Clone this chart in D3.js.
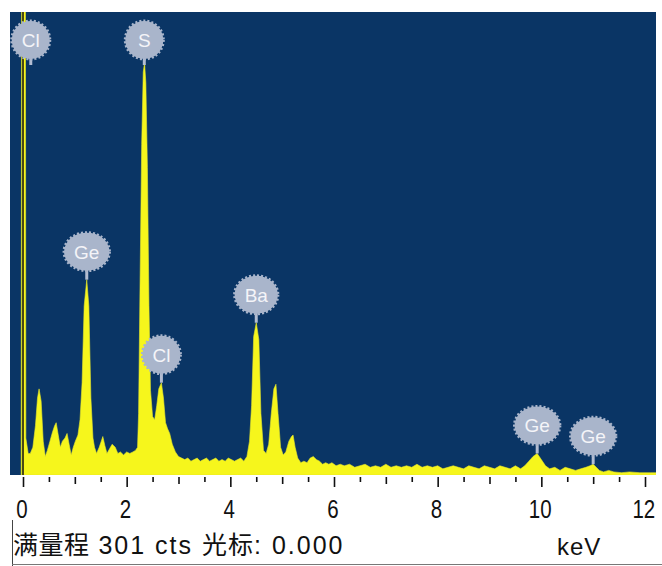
<!DOCTYPE html>
<html>
<head>
<meta charset="utf-8">
<script src="https://cdn.jsdelivr.net/npm/d3@7"></script>
<style>
body { margin: 0; background: #fff; }
svg { display: block; }
</style>
</head>
<body>
<div id="plot"></div>
<script>
// spectrum (keV / counts)
var energy = [-0.035, -0.025, 0.045, 0.055, 0.10, 0.14, 0.19, 0.24, 0.28, 0.31, 0.35, 0.39, 0.43, 0.47, 0.52, 0.57, 0.61, 0.64, 0.68, 0.72, 0.76,
    0.81, 0.85, 0.89, 0.93, 0.97, 1.01, 1.06, 1.10, 1.14, 1.18, 1.23, 1.27, 1.31, 1.35, 1.38, 1.42, 1.47, 1.51, 1.54, 1.58, 1.62, 1.67,
    1.72, 1.78, 1.83, 1.88, 1.94, 2.00, 2.06, 2.12, 2.17, 2.21, 2.23, 2.26, 2.29, 2.32, 2.345, 2.37, 2.40, 2.43, 2.46, 2.50, 2.54, 2.58,
    2.62, 2.67, 2.71, 2.75, 2.79, 2.83, 2.88, 2.94, 3.00, 3.06, 3.12, 3.18, 3.24, 3.30, 3.36, 3.42, 3.48, 3.54, 3.60, 3.66,
    3.72, 3.78, 3.84, 3.90, 3.96, 4.02, 4.08, 4.14, 4.20, 4.26, 4.32, 4.37, 4.41, 4.45, 4.50, 4.55, 4.59, 4.64, 4.69, 4.74,
    4.79, 4.84, 4.88, 4.92, 4.97, 5.02, 5.07, 5.13, 5.18, 5.21, 5.25, 5.30, 5.36, 5.42, 5.48, 5.54, 5.60, 5.66, 5.72, 5.78,
    5.84, 5.90, 5.96, 6.04, 6.12, 6.20, 6.30, 6.40, 6.50, 6.60, 6.70, 6.80, 6.90, 7.00, 7.10, 7.20, 7.30, 7.40, 7.50, 7.60,
    7.70, 7.80, 7.90, 8.00, 8.10, 8.20, 8.30, 8.40, 8.50, 8.60, 8.70, 8.80, 8.90, 9.00, 9.10, 9.20, 9.30, 9.40, 9.50, 9.60,
    9.68, 9.76, 9.84, 9.92, 10.00, 10.08, 10.16, 10.26, 10.36, 10.46, 10.56, 10.66, 10.76, 10.86, 10.94, 11.00, 11.06, 11.12, 11.20, 11.30,
    11.40, 11.55, 11.70, 11.90, 12.10, 12.25];
var counts = [0, 400, 400, 24, 14, 14, 18, 32, 50, 56, 48, 22, 12, 16, 22, 28, 32, 34, 26, 18, 22,
    24, 27, 20, 13, 18, 22, 26, 36, 60, 110, 127, 110, 50, 24, 18, 14, 18, 22, 25, 19, 14, 17,
    20, 18, 14, 15, 13, 15, 14, 15, 16, 18, 40, 130, 215, 262, 268, 255, 200, 110, 55, 38, 36, 45,
    56, 60, 50, 34, 30, 27, 20, 15, 12, 11, 10, 11, 9, 10, 11, 9, 10, 11, 9, 10,
    11, 9, 10, 9, 11, 10, 9, 10, 11, 9, 12, 22, 45, 90, 99, 88, 40, 16, 14, 20,
    40, 56, 59, 40, 18, 13, 15, 22, 25, 26, 18, 11, 8, 9, 8, 11, 12, 10, 9, 7,
    8, 7, 8, 6, 7, 6, 7, 5, 6, 7, 5, 6, 5, 7, 5, 6, 5, 6, 5, 7,
    5, 6, 5, 6, 4, 5, 6, 5, 4, 6, 5, 4, 6, 5, 4, 6, 5, 4, 6, 4,
    6, 9, 12, 14, 10, 6, 4, 5, 3, 5, 4, 3, 4, 5, 6, 7, 5, 3, 2, 3,
    2, 1.5, 2, 1.5, 1.5, 1.5];

// element markers
var peakNames = ["Cl", "S", "Ge", "Cl", "Ba", "Ge", "Ge"];
var peakEnergy = [0.15, 2.34, 1.23, 2.67, 4.50, 9.92, 11.00];
var peakCounts = [301, 268, 127, 60, 99, 14, 7];

var fullScale = 301;
var cursor = 0.000;
var tickValues = d3.range(0, 12.01, 0.5);

var W = 662, H = 566;
var box = {l: 10, r: 656, t: 12, b: 475};

var svg = d3.select('#plot')
    .append('svg')
    .attr('width', W)
    .attr('height', H);

var x = d3.scaleLinear().domain([0, 12]).range([23, 645]);
var y = d3.scaleLinear().domain([0, fullScale]).range([box.b, box.t]);

svg.append('clipPath').attr('id', 'clip')
    .append('rect')
    .attr('x', box.l).attr('y', box.t)
    .attr('width', box.r - box.l).attr('height', box.b - box.t);

svg.append('rect')
    .attr('x', box.l).attr('y', box.t)
    .attr('width', box.r - box.l).attr('height', box.b - box.t)
    .attr('fill', '#0a3565');

var spectrum = energy.map(function (e, i) {
    return {e: e, c: counts[i]};
});

var area = d3.area()
    .x(function (d) { return x(d.e); })
    .y0(y(0))
    .y1(function (d) { return y(d.c); });

var g = svg.append('g').attr('clip-path', 'url(#clip)');

g.append('path')
    .datum(spectrum)
    .attr('d', area)
    .attr('fill', '#f6f61c')
    .attr('stroke', '#eaea2a')
    .attr('stroke-width', 0.6);

// cursor line
g.append('line')
    .attr('x1', x(cursor)).attr('x2', x(cursor))
    .attr('y1', box.t).attr('y2', box.b)
    .attr('stroke', '#111')
    .attr('stroke-width', 1.5);

// labels
var labels = svg.append('g')
    .selectAll('g')
    .data(peakNames)
    .enter()
    .append('g');

labels.each(function (name, i) {
    var sel = d3.select(this);
    var cx = x(peakEnergy[i]);
    var top = y(peakCounts[i]);
    var cy = Math.max(40, top - 28);
    var txt = sel.append('text')
        .attr('x', cx).attr('y', cy + 7)
        .attr('text-anchor', 'middle')
        .attr('font-family', 'Liberation Sans, Arial, sans-serif')
        .attr('font-size', 19)
        .attr('fill', '#f4f4f8')
        .text(name);
    var tw = txt.node().getComputedTextLength();
    var rx = Math.max(19, tw / 2 + 10), ry = 19;
    sel.insert('line', 'text')
        .attr('x1', cx).attr('x2', cx)
        .attr('y1', cy)
        .attr('y2', Math.max(top, cy + ry + 6))
        .attr('stroke', '#b3bdd2')
        .attr('stroke-width', 3);
    sel.insert('ellipse', 'text')
        .attr('cx', cx).attr('cy', cy)
        .attr('rx', rx).attr('ry', ry)
        .attr('fill', '#a9b5cb')
        .attr('stroke', '#a9b5cb')
        .attr('stroke-width', 3)
        .attr('stroke-dasharray', '2 2');
});

// axis
var axis = d3.axisBottom(x)
    .tickValues(tickValues)
    .tickSize(0)
    .tickPadding(0)
    .tickFormat(function (d) { return d % 2 === 0 ? d : ''; });

var ax = svg.append('g')
    .attr('transform', 'translate(0,' + (box.b + 2) + ')')
    .call(axis);

ax.select('.domain').remove();
ax.selectAll('.tick line')
    .attr('y2', function (d) { return d % 2 === 0 ? 10 : (d % 1 === 0 ? 7 : 5); })
    .attr('stroke', '#111')
    .attr('stroke-width', 1.6);
ax.selectAll('.tick text')
    .attr('y', 41)
    .attr('dy', 0)
    .attr('x', -2)
    .attr('transform', 'scale(0.82,1)')
    .attr('fill', '#111')
    .attr('font-family', 'Liberation Sans, Arial, sans-serif')
    .attr('font-size', 25);

// status line
svg.append('line')
    .attr('x1', 12.5).attr('x2', 12.5)
    .attr('y1', 520).attr('y2', H)
    .attr('stroke', '#444').attr('stroke-width', 1);
svg.append('line')
    .attr('x1', 12).attr('x2', W)
    .attr('y1', 564.5).attr('y2', 564.5)
    .attr('stroke', '#777').attr('stroke-width', 1);

var statusText = svg.append('text')
    .attr('x', 13).attr('y', 554)
    .attr('font-family', 'Liberation Sans, Arial, sans-serif')
    .attr('font-size', 25)
    .attr('letter-spacing', 2)
    .attr('fill', '#111');
statusText.append('tspan').attr('font-family', 'Noto Sans CJK SC').attr('letter-spacing', 0.5).text('满量程');
statusText.append('tspan').text(' ' + fullScale + ' cts ');
statusText.append('tspan').attr('font-family', 'Noto Sans CJK SC').attr('letter-spacing', 1).text('光标');
statusText.append('tspan').text(': ' + d3.format('.3f')(cursor));

svg.append('text')
    .attr('x', 557).attr('y', 555)
    .attr('font-family', 'Liberation Sans, Arial, sans-serif')
    .attr('font-size', 24)
    .attr('letter-spacing', 1)
    .attr('fill', '#111')
    .text('keV');
</script>
</body>
</html>
